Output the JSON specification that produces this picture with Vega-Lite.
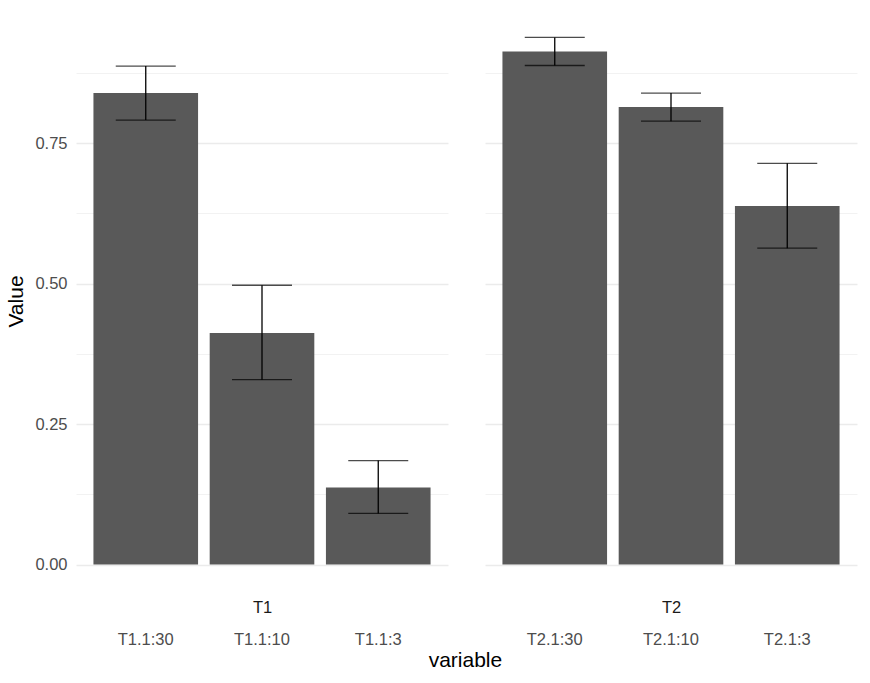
{
  "$schema": "https://vega.github.io/schema/vega-lite/v6.json",
  "padding": {"left": 5, "top": 11, "right": 13, "bottom": 8},
  "config": {
    "font": "Liberation Sans",
    "view": {"stroke": null},
    "axis": {"labelFont": "Liberation Sans", "titleFont": "Liberation Sans"}
  },
  "datasets": {
    "d": [
      {"variable": "T1.1:30", "group": "T1", "value": 0.839, "lo": 0.791, "hi": 0.887},
      {"variable": "T1.1:10", "group": "T1", "value": 0.412, "lo": 0.329, "hi": 0.497},
      {"variable": "T1.1:3", "group": "T1", "value": 0.137, "lo": 0.091, "hi": 0.185},
      {"variable": "T2.1:30", "group": "T2", "value": 0.913, "lo": 0.888, "hi": 0.938},
      {"variable": "T2.1:10", "group": "T2", "value": 0.814, "lo": 0.789, "hi": 0.839},
      {"variable": "T2.1:3", "group": "T2", "value": 0.638, "lo": 0.563, "hi": 0.714}
    ]
  },
  "title": {"text": "variable", "orient": "bottom", "anchor": "middle", "fontSize": 21, "fontWeight": "normal", "color": "#000000", "offset": 2, "dx": 34},
  "spacing": 37,
  "hconcat": [
    {
      "width": 372, "height": 580,
      "data": {"name": "d"},
      "transform": [{"filter": "datum.group == 'T1'"}],
      "layer": [
        {
          "mark": {"type": "bar", "color": "#595959"},
          "encoding": {
            "x": {"field": "variable", "type": "nominal", "sort": ["T1.1:30", "T1.1:10", "T1.1:3"],
              "scale": {"paddingInner": 0.1, "paddingOuter": 0.15},
              "axis": {"title": "T1", "titleY": 16, "titleBaseline": "middle", "titleFontSize": 16.5, "titleColor": "#1A1A1A", "titleFontWeight": "normal", "labelPadding": 40, "ticks": false, "domain": false, "grid": false, "labelAngle": 0, "labelColor": "#4D4D4D", "labelFontSize": 16.5}},
            "y": {"field": "value", "type": "quantitative", "title": "Value",
              "scale": {"domain": [-0.047, 0.985], "nice": false, "zero": false},
              "axis": {"values": [0, 0.125, 0.25, 0.375, 0.5, 0.625, 0.75, 0.875],
                "labelExpr": "datum.value % 0.25 == 0 ? format(datum.value, '.2f') : ''",
                "labelOverlap": false,
                "gridColor": "#EBEBEB",
                "gridWidth": {"condition": {"test": "datum.value % 0.25 == 0", "value": 1.3}, "value": 0.65},
                "ticks": false, "domain": false, "labelPadding": 9, "labelColor": "#4D4D4D", "labelFontSize": 16.5,
                "title": "Value", "titlePadding": 8, "titleFontSize": 21, "titleFontWeight": "normal", "titleColor": "#000000"}}
          }
        },
        {
          "mark": {"type": "rule", "color": "#000000", "strokeWidth": 1.3},
          "encoding": {
            "x": {"field": "variable", "type": "nominal", "sort": ["T1.1:30", "T1.1:10", "T1.1:3"]},
            "y": {"field": "lo", "type": "quantitative", "title": "Value"},
            "y2": {"field": "hi"}
          }
        },
        {
          "mark": {"type": "tick", "color": "#000000", "thickness": 1.3, "size": 60},
          "encoding": {
            "x": {"field": "variable", "type": "nominal", "sort": ["T1.1:30", "T1.1:10", "T1.1:3"]},
            "y": {"field": "lo", "type": "quantitative", "title": "Value"}
          }
        },
        {
          "mark": {"type": "tick", "color": "#000000", "thickness": 1.3, "size": 60},
          "encoding": {
            "x": {"field": "variable", "type": "nominal", "sort": ["T1.1:30", "T1.1:10", "T1.1:3"]},
            "y": {"field": "hi", "type": "quantitative", "title": "Value"}
          }
        }
      ]
    },
    {
      "width": 372, "height": 580,
      "data": {"name": "d"},
      "transform": [{"filter": "datum.group == 'T2'"}],
      "layer": [
        {
          "mark": {"type": "bar", "color": "#595959"},
          "encoding": {
            "x": {"field": "variable", "type": "nominal", "sort": ["T2.1:30", "T2.1:10", "T2.1:3"],
              "scale": {"paddingInner": 0.1, "paddingOuter": 0.15},
              "axis": {"title": "T2", "titleY": 16, "titleBaseline": "middle", "titleFontSize": 16.5, "titleColor": "#1A1A1A", "titleFontWeight": "normal", "labelPadding": 40, "ticks": false, "domain": false, "grid": false, "labelAngle": 0, "labelColor": "#4D4D4D", "labelFontSize": 16.5}},
            "y": {"field": "value", "type": "quantitative", "title": null,
              "scale": {"domain": [-0.047, 0.985], "nice": false, "zero": false},
              "axis": {"values": [0, 0.125, 0.25, 0.375, 0.5, 0.625, 0.75, 0.875],
                "labels": false,
                "gridColor": "#EBEBEB",
                "gridWidth": {"condition": {"test": "datum.value % 0.25 == 0", "value": 1.3}, "value": 0.65},
                "ticks": false, "domain": false, "title": null}}
          }
        },
        {
          "mark": {"type": "rule", "color": "#000000", "strokeWidth": 1.3},
          "encoding": {
            "x": {"field": "variable", "type": "nominal", "sort": ["T2.1:30", "T2.1:10", "T2.1:3"]},
            "y": {"field": "lo", "type": "quantitative", "title": null},
            "y2": {"field": "hi"}
          }
        },
        {
          "mark": {"type": "tick", "color": "#000000", "thickness": 1.3, "size": 60},
          "encoding": {
            "x": {"field": "variable", "type": "nominal", "sort": ["T2.1:30", "T2.1:10", "T2.1:3"]},
            "y": {"field": "lo", "type": "quantitative", "title": null}
          }
        },
        {
          "mark": {"type": "tick", "color": "#000000", "thickness": 1.3, "size": 60},
          "encoding": {
            "x": {"field": "variable", "type": "nominal", "sort": ["T2.1:30", "T2.1:10", "T2.1:3"]},
            "y": {"field": "hi", "type": "quantitative", "title": null}
          }
        }
      ]
    }
  ]
}
